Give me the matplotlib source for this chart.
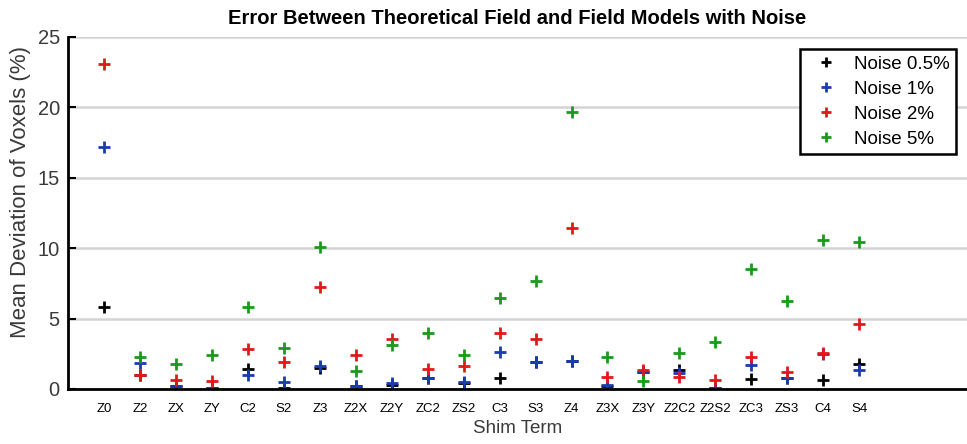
import numpy as np
import matplotlib
matplotlib.use("Agg")
import matplotlib.pyplot as plt
from matplotlib import font_manager

# ======================
# Data
# ======================
terms = ["Z0", "Z2", "ZX", "ZY", "C2", "S2", "Z3", "Z2X", "Z2Y", "ZC2", "ZS2",
         "C3", "S3", "Z4", "Z3X", "Z3Y", "Z2C2", "Z2S2", "ZC3", "ZS3", "C4", "S4"]

noise_05 = [5.82, 1.00, 0.20, 0.05, 1.42, 0.05, 1.52, 0.21, 0.28, 0.80, 0.40,
            0.81, 1.90, 2.00, 0.20, 1.23, 1.35, 0.05, 0.71, 0.80, 0.64, 1.78]
noise_1 = [17.2, 1.82, 0.21, 0.10, 0.99, 0.52, 1.66, 0.20, 0.45, 0.76, 0.47,
           2.60, 1.94, 2.01, 0.28, 1.20, 1.16, 0.10, 1.68, 0.76, 2.50, 1.35]
noise_2 = [23.06, 0.99, 0.64, 0.57, 2.82, 1.89, 7.24, 2.41, 3.53, 1.44, 1.63,
           3.95, 3.53, 11.41, 0.88, 1.35, 0.88, 0.64, 2.30, 1.23, 2.58, 4.62]
noise_5 = [None, 2.25, 1.77, 2.41, 5.82, 2.89, 10.10, 1.30, 3.10, 3.95, 2.41,
           6.49, 7.63, 19.63, 2.25, 0.57, 2.53, 3.36, 8.50, 6.25, 10.58, 10.46]

series = [("Noise 0.5%", noise_05, "black"),
          ("Noise 1%", noise_1, "#1a3cb0"),
          ("Noise 2%", noise_2, "#e01a1a"),
          ("Noise 5%", noise_5, "#1a9a1a")]

# narrow font if available
names = {f.name for f in font_manager.fontManager.ttflist}
narrow = "Liberation Sans Narrow" if "Liberation Sans Narrow" in names else "Liberation Sans"
sans = ["Liberation Sans", "DejaVu Sans"]

# ======================
# Plot
# ======================
fig = plt.figure(figsize=(9.67, 4.44), dpi=100)
ax = fig.add_axes([0.0705, 0.124, 0.9295, 0.793])

x = np.arange(1, len(terms) + 1)
for label, vals, col in series:
    v = np.array([np.nan if a is None else a for a in vals], dtype=float)
    ax.plot(x, v, linestyle="none", marker="+", markersize=9, markeredgewidth=2,
            color=col, label=label)

ax.set_xlim(0, 25)
ax.set_ylim(0, 25)
ax.set_yticks([0, 5, 10, 15, 20, 25])
ax.set_xticks(x)
ax.set_xticklabels(terms, family=[narrow, "DejaVu Sans"],
                   fontsize=11 if narrow != "Liberation Sans" else 9.5)
ax.tick_params(axis="x", length=0, pad=10)
ax.tick_params(axis="y", direction="in", length=6, width=1.5, labelsize=14.5,
               labelcolor="#3a3a3a", pad=6)
for lab in ax.get_yticklabels():
    lab.set_family(sans)

ax.grid(axis="y", color="#d4d4d4", linewidth=1.8)
ax.set_axisbelow(True)
ax.spines["top"].set_visible(False)
ax.spines["right"].set_visible(False)
ax.spines["left"].set_linewidth(2)
ax.spines["bottom"].set_linewidth(2)

ax.set_ylabel("Mean Deviation of Voxels (%)", fontsize=16, color="#3a3a3a",
              family=sans)
ax.yaxis.set_label_coords(-0.041, 0.56)
ax.set_xlabel("Shim Term", fontsize=13.5, color="#3a3a3a", family=sans, labelpad=4)
ax.set_title("Error Between Theoretical Field and Field Models with Noise",
             fontsize=15 if narrow != "Liberation Sans" else 14.5, fontweight="bold",
             family=[narrow, "DejaVu Sans"], pad=9)

leg = ax.legend(loc="upper right", bbox_to_anchor=(0.988, 0.966), fancybox=False,
                framealpha=1, edgecolor="black", prop={"family": sans, "size": 13.5},
                handlelength=2.0, handletextpad=0.5, borderpad=0.35, labelspacing=0.42,
                borderaxespad=0)
leg.get_frame().set_linewidth(1.8)
for h in leg.legend_handles:
    h.set_markersize(7)

fig.savefig("out.png", dpi=100)
